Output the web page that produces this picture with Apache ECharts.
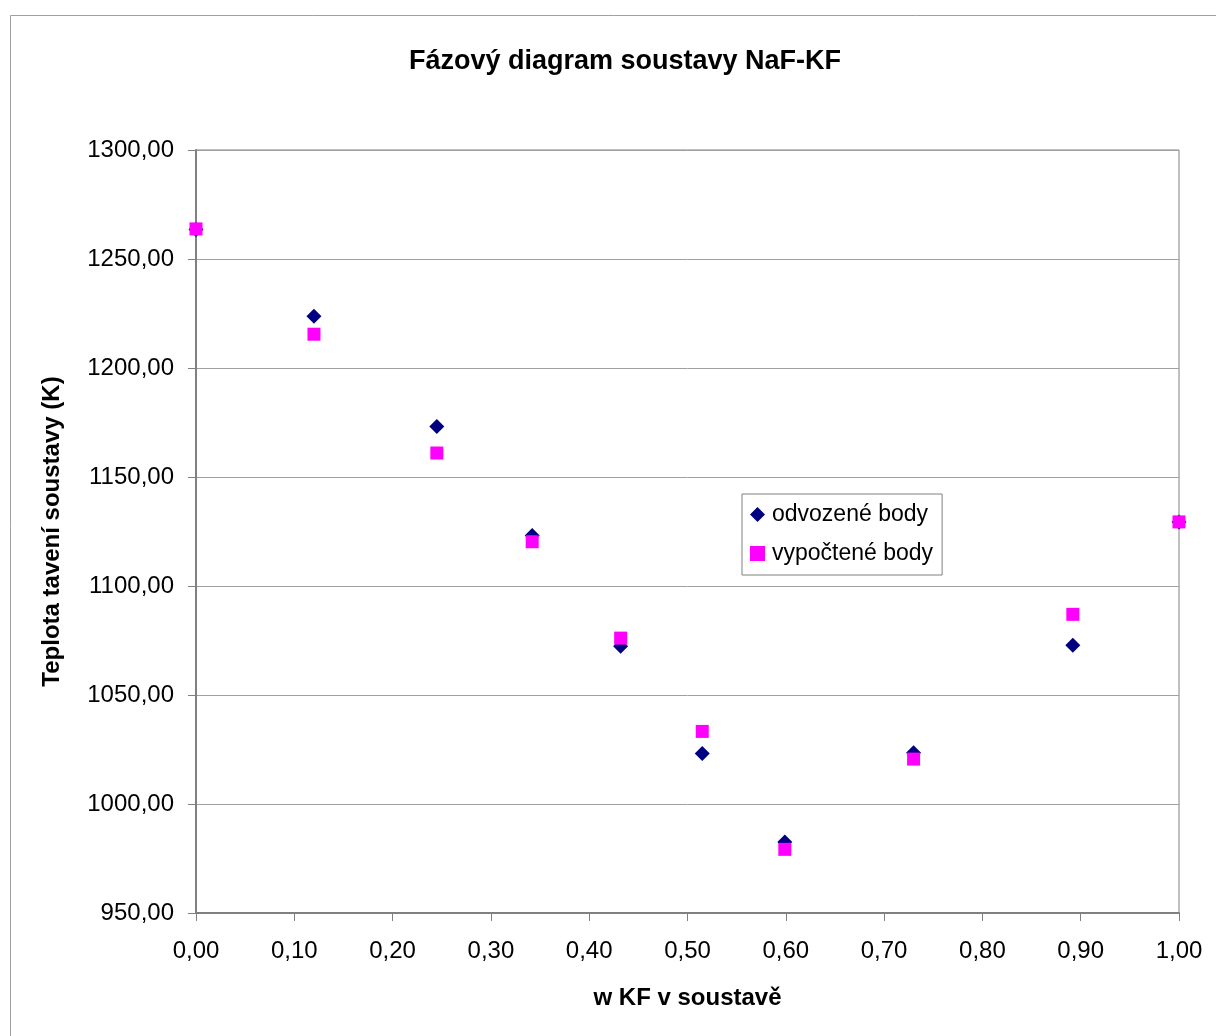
<!DOCTYPE html>
<html>
<head>
<meta charset="utf-8">
<script src="https://cdn.jsdelivr.net/npm/echarts@6/dist/echarts.min.js"></script>
<style>
html,body{margin:0;padding:0;background:#fff;}
#chart{width:1216px;height:1036px;}
</style>
</head>
<body>
<div id="chart"></div>
<script>
const xValues = [0.000, 0.120, 0.245, 0.342, 0.432, 0.515, 0.599, 0.730, 0.892, 1.000];
const odvozene = [1263.5, 1223.7, 1173.2, 1123.2, 1072.4, 1023.2, 982.6, 1023.5, 1072.8, 1129.4];
const vypoctene = [1263.8, 1215.5, 1161.0, 1120.3, 1076.1, 1033.3, 979.2, 1020.6, 1087.0, 1129.4];
const seriesNames = ['odvozené body', 'vypočtené body'];
const titleText = 'Fázový diagram soustavy NaF-KF';
const xName = 'w KF v soustavě';
const yName = 'Teplota tavení soustavy (K)';

const fmt = v => v.toFixed(2).replace('.', ',');
const font = 'Liberation Sans, Arial, sans-serif';

const chart = echarts.init(document.getElementById('chart'));
chart.setOption({
  animation: false,
  backgroundColor: '#fff',
  graphic: [{
    type: 'rect',
    shape: {x: 10.5, y: 15.5, width: 1300, height: 1100},
    style: {fill: 'none', stroke: '#a0a0a0', lineWidth: 1}
  }],
  title: {
    text: titleText,
    left: 620, top: 43, textAlign: 'center',
    textStyle: {fontFamily: font, fontWeight: 'bold', fontSize: 27, color: '#000'}
  },
  legend: {
    orient: 'vertical',
    left: 742, top: 494,
    padding: [9, 9, 10, 8],
    itemGap: 16,
    itemWidth: 15, itemHeight: 15,
    itemStyle: {borderWidth: 0, opacity: 1},
    backgroundColor: '#fff',
    borderColor: '#808080', borderWidth: 1,
    textStyle: {fontFamily: font, fontSize: 23, color: '#000', padding: [0, 0, 0, 2]},
    data: seriesNames
  },
  grid: {
    left: 196, right: 37, top: 150, bottom: 123,
    show: true, borderColor: '#808080', borderWidth: 1
  },
  xAxis: {
    type: 'value', min: 0, max: 1, interval: 0.1,
    name: xName, nameLocation: 'middle', nameGap: 73,
    nameTextStyle: {fontFamily: font, fontWeight: 'bold', fontSize: 24, color: '#000'},
    axisLine: {lineStyle: {color: '#808080', width: 2}},
    axisTick: {show: true, length: 8, lineStyle: {color: '#808080'}},
    axisLabel: {formatter: fmt, fontFamily: font, fontSize: 24, color: '#000', margin: 26},
    splitLine: {show: false}
  },
  yAxis: {
    type: 'value', min: 950, max: 1300, interval: 50,
    name: yName, nameLocation: 'middle', nameGap: 132, nameRotate: 90,
    nameTextStyle: {fontFamily: font, fontWeight: 'bold', fontSize: 24, color: '#000'},
    axisLine: {show: true, lineStyle: {color: '#808080', width: 2}},
    axisTick: {show: true, length: 8, lineStyle: {color: '#808080'}},
    axisLabel: {formatter: fmt, fontFamily: font, fontSize: 24, color: '#000', margin: 22},
    splitLine: {show: true, lineStyle: {color: '#a0a0a0', width: 1}}
  },
  series: [
    {
      name: seriesNames[0], type: 'scatter', symbol: 'diamond', symbolSize: [15, 15],
      itemStyle: {color: '#000080', opacity: 1},
      data: xValues.map((x, i) => [x, odvozene[i]]),
      z: 2
    },
    {
      name: seriesNames[1], type: 'scatter', symbol: 'rect', symbolSize: [13, 13],
      itemStyle: {color: '#ff00ff', opacity: 1},
      data: xValues.map((x, i) => [x, vypoctene[i]]),
      z: 3
    }
  ]
});
</script>
</body>
</html>
